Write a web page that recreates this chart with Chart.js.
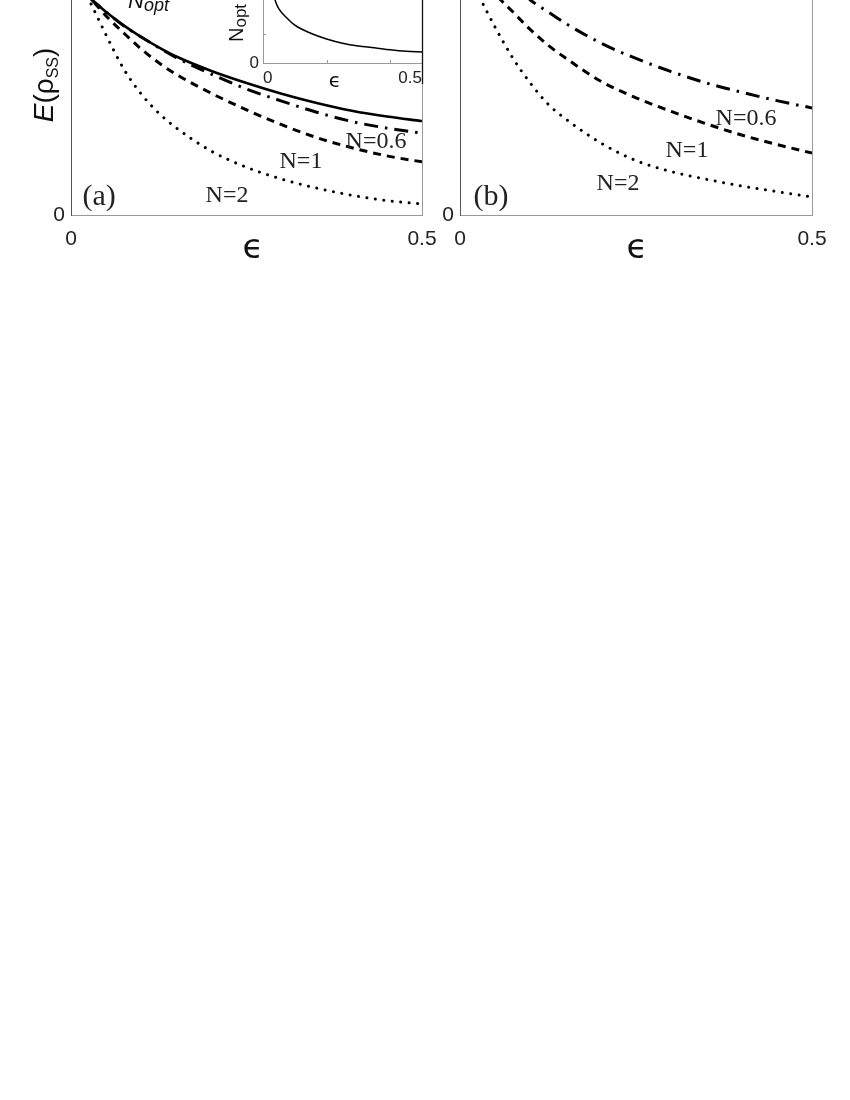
<!DOCTYPE html>
<html><head><meta charset="utf-8">
<script src="https://cdn.jsdelivr.net/npm/chart.js@4/dist/chart.umd.min.js"></script>
<style>
html,body{margin:0;padding:0;background:#fff;width:850px;height:1100px;overflow:hidden}
canvas{position:absolute;top:0}
#ca{left:0}#cb{left:438px}#ci{left:220px}
</style></head><body>
<canvas id="ca" width="445" height="270"></canvas>
<canvas id="cb" width="412" height="270"></canvas>
<canvas id="ci" width="215" height="95"></canvas>
<script>
// ---------- data ----------
const epsA   = [0, 0.02, 0.03, 0.04, 0.05, 0.075, 0.1, 0.125, 0.15, 0.2, 0.25, 0.3, 0.35, 0.4, 0.45, 0.5];
const aNopt  = [1.12, 1.04, 1.0, 0.972, 0.944, 0.882, 0.828, 0.780, 0.737, 0.670, 0.614, 0.564, 0.521, 0.485, 0.458, 0.437];
const aN06   = [1.12, 1.04, 1.0, 0.972, 0.944, 0.880, 0.828, 0.778, 0.732, 0.655, 0.586, 0.530, 0.478, 0.435, 0.404, 0.381];
const aN1    = [1.15, 1.05, 1.0, 0.963, 0.926, 0.847, 0.772, 0.708, 0.654, 0.566, 0.489, 0.420, 0.360, 0.313, 0.275, 0.247];
const aN2    = [1.2, 1.04, 0.972, 0.905, 0.837, 0.680, 0.563, 0.474, 0.405, 0.297, 0.222, 0.167, 0.125, 0.092, 0.067, 0.051];

const epsB   = [0, 0.02, 0.03, 0.04, 0.05, 0.075, 0.1, 0.125, 0.15, 0.2, 0.25, 0.3, 0.35, 0.4, 0.45, 0.5];
const bN06   = [1.5, 1.35, 1.3, 1.25, 1.2, 1.08, 1.0, 0.945, 0.891, 0.800, 0.728, 0.667, 0.614, 0.571, 0.532, 0.498];
const bN1    = [1.5, 1.25, 1.15, 1.08, 1.03, 0.945, 0.862, 0.790, 0.730, 0.622, 0.545, 0.482, 0.424, 0.372, 0.328, 0.288];
const bN2    = [1.4, 1.08, 1.0, 0.935, 0.873, 0.730, 0.613, 0.516, 0.447, 0.335, 0.253, 0.202, 0.166, 0.135, 0.109, 0.084];

const epsInset  = [0.02, 0.03, 0.04, 0.05, 0.075, 0.1, 0.15, 0.2, 0.25, 0.3, 0.35, 0.4, 0.45, 0.5];
const insetNopt = [1.6, 1.15, 0.97, 0.86, 0.714, 0.60, 0.473, 0.382, 0.315, 0.271, 0.243, 0.210, 0.186, 0.175];

const seriesNames = ['N_opt', 'N=0.6', 'N=1', 'N=2'];
const xTickValues = [0, 0.5];
const xTickLabels = ['0', '0.5'];
const yTickValues = [0];
const yTickLabels = ['0'];
const insetXTickValues = [0, 0.2, 0.4, 0.5];
const insetXTickLabels = ['0', '', '', '0.5'];
const insetYTickValues = [0];
const insetYTickLabels = ['0'];

// ---------- styling ----------
const SANS = '"Liberation Sans","DejaVu Sans",sans-serif';
const SERIF = '"Liberation Serif","DejaVu Serif",serif';
const EPSF = '"DejaVu Sans",sans-serif';
const STY = {
  'N_opt': {w: 2.6, dash: [], cap: 'butt'},
  'N=0.6': {w: 3, dash: [14, 7, 2.5, 7], cap: 'butt'},
  'N=1':   {w: 3, dash: [8, 6], cap: 'butt'},
  'N=2':   {w: 3, dash: [0.01, 8.5], cap: 'round'}
};
function ds(name, eps, vals, w) {
  const s = STY[name];
  return {label: name, data: eps.map((e, i) => ({x: e, y: vals[i]})),
    borderColor: '#000', borderWidth: w || s.w, borderDash: s.dash, borderCapStyle: s.cap,
    cubicInterpolationMode: 'monotone', pointRadius: 0, fill: false};
}
function pickTicks(vals) { return s => { s.ticks = vals.map(v => ({value: v})); }; }
function labelFrom(vals, labs) { return v => { const i = vals.findIndex(t => Math.abs(t - v) < 1e-9); return i >= 0 ? labs[i] : null; }; }

function drawRich(ctx, x, y, parts, rot) {
  ctx.save();
  ctx.translate(x, y);
  if (rot) ctx.rotate(rot);
  ctx.textBaseline = 'alphabetic';
  ctx.textAlign = 'left';
  let total = 0;
  parts.forEach(p => { ctx.font = p.font; total += ctx.measureText(p.t).width; });
  let cx = parts.align === 'center' ? -total / 2 : 0;
  parts.forEach(p => {
    ctx.font = p.font; ctx.fillStyle = p.color || '#111';
    ctx.fillText(p.t, cx, p.dy || 0);
    cx += ctx.measureText(p.t).width;
  });
  ctx.restore();
}

const textPlugin = {
  id: 'txt',
  afterDraw(chart, args, opts) {
    const ctx = chart.ctx, xs = chart.scales.x, ys = chart.scales.y;
    (opts.labels || []).forEach(l => {
      ctx.save();
      ctx.font = l.font; ctx.fillStyle = l.color || '#222';
      ctx.textAlign = 'center'; ctx.textBaseline = 'middle';
      ctx.fillText(l.text, xs.getPixelForValue(l.ex), ys.getPixelForValue(l.ev));
      ctx.restore();
    });
    if (opts.extra) opts.extra(chart, ctx);
  }
};
Chart.register(textPlugin);

function mainOptions(o) {
  return {
    responsive: false, animation: false, devicePixelRatio: 1,
    layout: {padding: {left: 0, right: o.padRight, top: 0, bottom: 0}},
    plugins: {legend: {display: false}, tooltip: {enabled: false}, txt: o.txt},
    scales: {
      x: {type: 'linear', min: 0, max: 0.5,
        afterBuildTicks: pickTicks(xTickValues),
        afterFit(s) { s.height = o.xHeight; s.paddingLeft = 0; s.paddingRight = 0; },
        ticks: {callback: labelFrom(xTickValues, xTickLabels), autoSkip: false, maxRotation: 0,
          font: {family: SANS, size: 21}, color: '#222', padding: o.xPad},
        grid: {display: false, drawTicks: false}, border: {color: '#9a9a9a', width: 1}},
      y: {type: 'linear', min: 0, max: 1,
        afterBuildTicks: pickTicks(yTickValues),
        afterFit(s) { s.width = o.yWidth; s.paddingTop = 0; s.paddingBottom = 0; },
        ticks: {callback: labelFrom(yTickValues, yTickLabels), font: {family: SANS, size: 21}, color: '#222', padding: 6},
        grid: {display: false, drawTicks: false}, border: {color: '#555', width: 1}},
      y2: {type: 'linear', position: 'right', min: 0, max: 1,
        afterFit(s) { s.width = 0; s.paddingTop = 0; s.paddingBottom = 0; },
        ticks: {display: false}, grid: {display: false, drawTicks: false}, border: {color: '#9a9a9a', width: 1}}
    }
  };
}

// ---------- panel (a) ----------
new Chart(document.getElementById('ca'), {
  type: 'line',
  data: {datasets: [
    ds(seriesNames[3], epsA, aN2),
    ds(seriesNames[2], epsA, aN1),
    ds(seriesNames[1], epsA, aN06),
    ds(seriesNames[0], epsA, aNopt)
  ]},
  options: mainOptions({padRight: 23, xHeight: 55, yWidth: 71, xPad: 12, txt: {
    labels: [
      {text: 'N=0.6', ex: 0.4345, ev: 0.340, font: '24px ' + SERIF},
      {text: 'N=1', ex: 0.3276, ev: 0.2465, font: '24px ' + SERIF},
      {text: 'N=2', ex: 0.2222, ev: 0.088, font: '24px ' + SERIF},
      {text: '(a)', ex: 0.040, ev: 0.084, font: '30px ' + SERIF}
    ],
    extra(chart, ctx) {
      const ca = chart.chartArea;
      ctx.save(); ctx.font = '34px ' + EPSF; ctx.fillStyle = '#111'; ctx.textAlign = 'center'; ctx.textBaseline = 'alphabetic';
      ctx.fillText('\u03F5', (ca.left + ca.right) / 2 + 6.5, ca.bottom + 43);
      ctx.restore();
      const yt = [{t: 'E', font: 'italic 28px ' + SANS}, {t: '(\u03C1', font: '28px ' + SANS},
                  {t: 'SS', font: '16px ' + SANS, dy: 5}, {t: ')', font: '28px ' + SANS}];
      yt.align = 'center';
      drawRich(ctx, 53, 85, yt, -Math.PI / 2);
      drawRich(ctx, 128, 8, [{t: 'N', font: 'italic 22px ' + SANS}, {t: 'opt', font: 'italic 18px ' + SANS, dy: 3}], 0);
    }
  }})
});

// ---------- panel (b) ----------
new Chart(document.getElementById('cb'), {
  type: 'line',
  data: {datasets: [
    ds(seriesNames[3], epsB, bN2),
    ds(seriesNames[2], epsB, bN1),
    ds(seriesNames[1], epsB, bN06)
  ]},
  options: mainOptions({padRight: 38, xHeight: 55, yWidth: 22, xPad: 12, txt: {
    labels: [
      {text: 'N=0.6', ex: 0.4063, ev: 0.4465, font: '24px ' + SERIF},
      {text: 'N=1', ex: 0.3224, ev: 0.2977, font: '24px ' + SERIF},
      {text: 'N=2', ex: 0.2244, ev: 0.144, font: '24px ' + SERIF},
      {text: '(b)', ex: 0.044, ev: 0.084, font: '30px ' + SERIF}
    ],
    extra(chart, ctx) {
      const ca = chart.chartArea;
      ctx.save(); ctx.font = '34px ' + EPSF; ctx.fillStyle = '#111'; ctx.textAlign = 'center'; ctx.textBaseline = 'alphabetic';
      ctx.fillText('\u03F5', (ca.left + ca.right) / 2 + 1, ca.bottom + 43);
      ctx.restore();
    }
  }})
});

// ---------- inset ----------
new Chart(document.getElementById('ci'), {
  type: 'line',
  data: {datasets: [ds(seriesNames[0], epsInset, insetNopt, 1.5)]},
  plugins: [{
    id: 'insetBg',
    beforeDraw(chart) {
      const c = chart.ctx, a = chart.chartArea;
      c.save(); c.fillStyle = '#fff'; c.fillRect(a.left, a.top, a.right - a.left, a.bottom - a.top); c.restore();
    }
  }],
  options: {
    responsive: false, animation: false, devicePixelRatio: 1,
    layout: {padding: {left: 0, right: 13, top: 0, bottom: 0}},
    plugins: {legend: {display: false}, tooltip: {enabled: false}, txt: {
      extra(chart, ctx) {
        const a = chart.chartArea, xs = chart.scales.x, ys = chart.scales.y;
        ctx.save();
        ctx.strokeStyle = '#9a9a9a'; ctx.lineWidth = 1;
        insetXTickValues.slice(1, 3).forEach(v => {
          const px = Math.round(xs.getPixelForValue(v)) + 0.5;
          ctx.beginPath(); ctx.moveTo(px, a.bottom); ctx.lineTo(px, a.bottom - 3); ctx.stroke();
        });
        const py = Math.round(ys.getPixelForValue(0.46)) + 0.5;
        ctx.beginPath(); ctx.moveTo(a.left, py); ctx.lineTo(a.left + 3, py); ctx.stroke();
        ctx.strokeStyle = '#111'; ctx.lineWidth = 1.3;
        ctx.beginPath(); ctx.moveTo(a.right + 0.5, 0); ctx.lineTo(a.right + 0.5, a.bottom + 21); ctx.stroke();
        ctx.font = '20px ' + EPSF; ctx.fillStyle = '#111'; ctx.textAlign = 'center'; ctx.textBaseline = 'alphabetic';
        ctx.fillText('\u03F5', 115, 87);
        ctx.restore();
        drawRich(ctx, 23, 42, [{t: 'N', font: '20px ' + SANS}, {t: 'opt', font: '17px ' + SANS, dy: 3}], -Math.PI / 2);
      }
    }},
    scales: {
      x: {type: 'linear', min: 0, max: 0.5,
        afterBuildTicks: pickTicks(insetXTickValues),
        afterFit(s) { s.height = 32; s.paddingLeft = 0; s.paddingRight = 0; },
        ticks: {callback: labelFrom(insetXTickValues, insetXTickLabels), autoSkip: false, maxRotation: 0, align: 'inner',
          font: {family: SANS, size: 17}, color: '#222', padding: 5},
        grid: {display: false, drawTicks: false}, border: {color: '#9a9a9a', width: 1}},
      y: {type: 'linear', min: 0, max: 1,
        afterBuildTicks: pickTicks(insetYTickValues),
        afterFit(s) { s.width = 43; s.paddingTop = 0; s.paddingBottom = 0; },
        ticks: {callback: labelFrom(insetYTickValues, insetYTickLabels), font: {family: SANS, size: 17}, color: '#222', padding: 4},
        grid: {display: false, drawTicks: false}, border: {color: '#9a9a9a', width: 1}}
    }
  }
});
</script>
</body></html>
